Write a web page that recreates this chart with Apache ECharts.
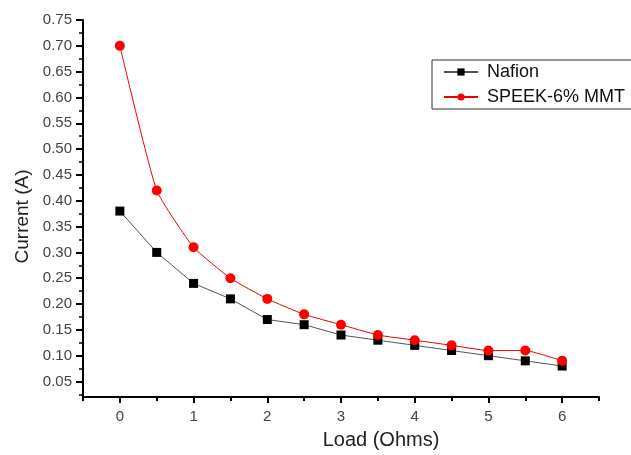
<!DOCTYPE html>
<html>
<head>
<meta charset="utf-8">
<script src="https://cdn.jsdelivr.net/npm/echarts@6/dist/echarts.min.js"></script>
<style>
  html, body { margin: 0; padding: 0; background: #fff; }
  #chart { width: 631px; height: 455px; }
</style>
</head>
<body>
<div id="chart"></div>
<script>
var loads = [0, 0.5, 1, 1.5, 2, 2.5, 3, 3.5, 4, 4.5, 5, 5.5, 6];
var nafion = [0.38, 0.30, 0.24, 0.21, 0.17, 0.16, 0.14, 0.13, 0.12, 0.11, 0.10, 0.09, 0.08];
var speek = [0.70, 0.42, 0.31, 0.25, 0.21, 0.18, 0.16, 0.14, 0.13, 0.12, 0.11, 0.11, 0.09];
var xMajor = [0, 1, 2, 3, 4, 5, 6];
var xMinor = [-0.5, 0.5, 1.5, 2.5, 3.5, 4.5, 5.5, 6.5];
var yMajor = [0.05, 0.10, 0.15, 0.20, 0.25, 0.30, 0.35, 0.40, 0.45, 0.50, 0.55, 0.60, 0.65, 0.70, 0.75];
var yMinor = [0.025, 0.075, 0.125, 0.175, 0.225, 0.275, 0.325, 0.375, 0.425, 0.475, 0.525, 0.575, 0.625, 0.675, 0.725];

(function() {
  var chart = echarts.init(document.getElementById('chart'), null, { renderer: 'canvas' });
  var font = 'Liberation Sans, Arial, sans-serif';

  function pairs(ys) {
    return loads.map(function(x, i) { return [x, ys[i]]; });
  }

  chart.setOption({
    animation: false,
    backgroundColor: '#fff',
    grid: { left: 83, right: 32, top: 20, bottom: 54 },
    legend: {
      orient: 'vertical',
      left: 432,
      top: 60,
      padding: [3, 8, 3, 11],
      itemGap: 7,
      itemWidth: 34,
      itemHeight: 9,
      borderColor: '#333',
      borderWidth: 1,
      backgroundColor: '#fff',
      textStyle: { fontFamily: font, fontSize: 18, color: '#111', padding: [0, 0, 0, 4] },
      data: ['Nafion', 'SPEEK-6% MMT']
    },
    xAxis: [{
      type: 'value',
      min: -0.5,
      max: 6.5,
      name: 'Load (Ohms)',
      nameLocation: 'middle',
      nameGap: 33,
      nameTextStyle: { fontFamily: font, fontSize: 20, color: '#222', padding: [0, 0, 0, 80] },
      splitLine: { show: false },
      axisLine: { onZero: false, lineStyle: { color: '#000', width: 2 } },
      axisTick: { customValues: xMajor, length: 6, lineStyle: { color: '#000', width: 2 } },
      axisLabel: {
        customValues: xMajor, margin: 12,
        fontFamily: font, fontSize: 15, color: '#444'
      }
    }, {
      type: 'value',
      position: 'bottom',
      min: -0.5,
      max: 6.5,
      splitLine: { show: false },
      axisLine: { show: true, onZero: false, lineStyle: { color: 'rgba(0,0,0,0)' } },
      axisTick: { show: true, customValues: xMinor, length: 4, lineStyle: { color: '#000', width: 2 } },
      axisLabel: { show: false }
    }],
    yAxis: [{
      type: 'value',
      min: 0.02,
      max: 0.75,
      name: 'Current (A)',
      nameLocation: 'middle',
      nameGap: 50,
      nameTextStyle: { fontFamily: font, fontSize: 19, color: '#222', padding: [0, 16, 0, 0] },
      splitLine: { show: false },
      axisLine: { onZero: false, lineStyle: { color: '#000', width: 2 } },
      axisTick: { customValues: yMajor, length: 7, lineStyle: { color: '#000', width: 2 } },
      axisLabel: {
        customValues: yMajor, margin: 11,
        fontFamily: font, fontSize: 15, color: '#444',
        formatter: function(v) { return v.toFixed(2); }
      }
    }, {
      type: 'value',
      position: 'left',
      min: 0.02,
      max: 0.75,
      splitLine: { show: false },
      axisLine: { show: true, onZero: false, lineStyle: { color: 'rgba(0,0,0,0)' } },
      axisTick: { show: true, customValues: yMinor, length: 4, lineStyle: { color: '#000', width: 1.5 } },
      axisLabel: { show: false }
    }],
    series: [{
      name: 'Nafion',
      type: 'line',
      data: pairs(nafion),
      symbol: 'rect',
      symbolSize: 9,
      itemStyle: { color: '#000' },
      lineStyle: { color: '#555', width: 1 }
    }, {
      name: 'SPEEK-6% MMT',
      type: 'line',
      data: pairs(speek),
      smooth: 0.15,
      symbol: 'circle',
      symbolSize: 10,
      itemStyle: { color: '#f00' },
      lineStyle: { color: '#e00', width: 1 }
    }]
  });
})();
</script>
</body>
</html>
